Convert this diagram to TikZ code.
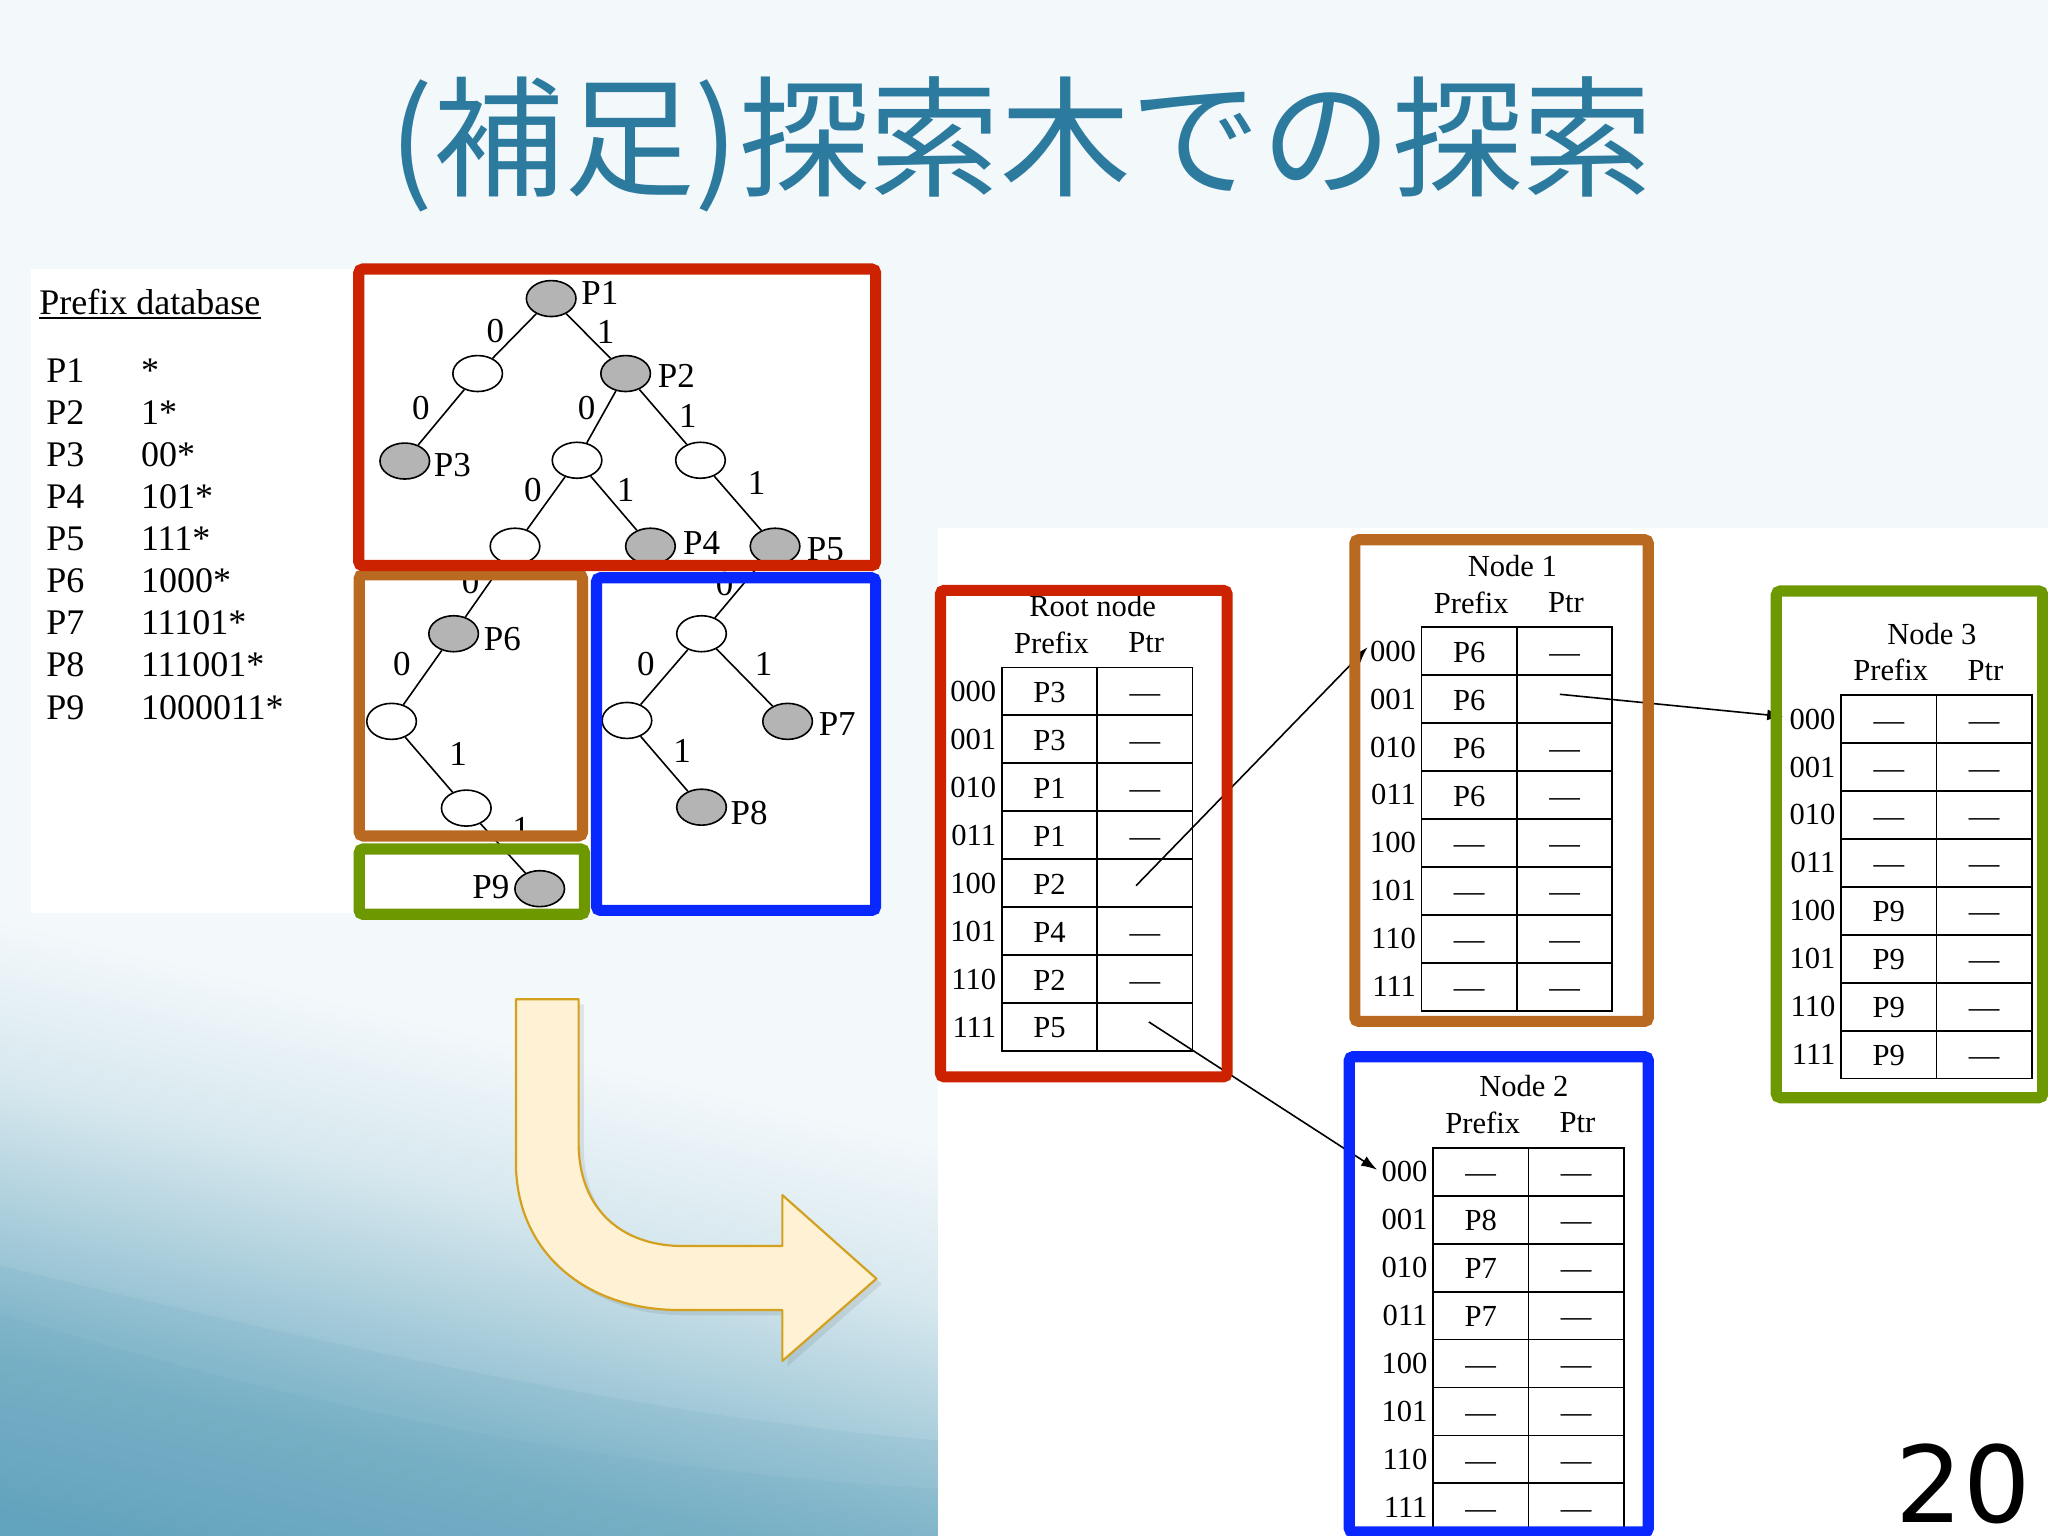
\documentclass[tikz,border=0pt]{standalone}
\usepackage{fontspec}
\setmainfont{Liberation Serif}
\newfontfamily\jpfont{Noto Sans CJK JP}
\newfontfamily\pgnfont{DejaVu Sans}
\usetikzlibrary{shapes.geometric,arrows.meta}
\definecolor{titlecol}{RGB}{44,122,158}
\definecolor{boxred}{RGB}{204,34,0}
\definecolor{boxorange}{RGB}{185,106,32}
\definecolor{boxblue}{RGB}{8,40,255}
\definecolor{boxgreen}{RGB}{110,152,0}
\definecolor{bgtop}{RGB}{243,248,251}
\definecolor{shA}{RGB}{98,163,189}
\definecolor{shB}{RGB}{125,180,200}
\definecolor{shC}{RGB}{162,201,216}
\definecolor{shD}{RGB}{215,232,238}
\definecolor{arrowfill}{RGB}{255,242,212}
\definecolor{arrowline}{RGB}{212,160,32}
\definecolor{nodegray}{RGB}{180,180,180}
\pgfdeclareverticalshading{bgwave}{100bp}{color(0bp)=(shA); color(20bp)=(shA); color(31bp)=(shB); color(38bp)=(shC); color(48bp)=(shD); color(58bp)=(bgtop); color(100bp)=(bgtop)}

\newcommand\mytable[5]{%
  \node[hdr] (#1title) at (#2+69.5,#3-47) {#4};
  \node[hdr] (#1hp) at (#2+38,#3-19) {Prefix};
  \node[hdr] (#1hq) at (#2+110.5,#3-19) {Ptr};
  \foreach \b/\p/\q [count=\i from 0] in {#5} {
    \node[cell] (#1p\b) at (#2+36.5,#3+36.7*\i+18.35) {\p};
    \node[cell] (#1q\b) at (#2+109.5,#3+36.7*\i+18.35) {\q};
    \node[rowlab] (#1l\b) at (#2-4,#3+36.7*\i+18.35) {\b};
  }
}

\begin{document}
\begin{tikzpicture}[x=0.6531pt,y=-0.6531pt,
  frame/.style={line width=5.6pt,rounded corners=2pt},
  tnode/.style={ellipse,draw,line width=0.8pt,minimum width=24.8pt,minimum height=18pt,inner sep=0pt,fill=white},
  pnode/.style={tnode,fill=nodegray},
  tlab/.style={font=\fontsize{17.5}{20}\selectfont,inner sep=0pt},
  listtxt/.style={font=\fontsize{18}{21}\selectfont,inner sep=0pt,anchor=base west},
  cell/.style={draw,line width=0.9pt,minimum width=47.7pt,minimum height=23.97pt,inner sep=0pt,
    text height=13.8pt,text depth=2.75pt,font=\fontsize{15.3}{18}\selectfont},
  rowlab/.style={anchor=east,inner sep=0pt,font=\fontsize{15.3}{18}\selectfont},
  hdr/.style={inner sep=0pt,font=\fontsize{15.3}{18}\selectfont},
  tedge/.style={line width=0.8pt},
  ptr/.style={line width=0.8pt,-{Latex[length=8pt,width=5.5pt]}},
  bigarrow/.style={fill=arrowfill,draw=arrowline,line width=1.1pt,line join=round}
]
\useasboundingbox (0,0) rectangle (1568,1176);
\clip (0,0) rectangle (1568,1176);

% background
\fill[bgtop] (0,0) rectangle (1568,1176);
\shade[shading=bgwave,shading angle=-13.5] (0,600) rectangle (720,1176);
\fill[shA,opacity=0.12] (0,969) .. controls (250,1030) and (500,1085) .. (720,1103) -- (720,1176) -- (0,1176) -- cycle;
\fill[shA,opacity=0.10] (0,1005) .. controls (250,1085) and (500,1128) .. (720,1140) -- (720,1176) -- (0,1176) -- cycle;

% title
\node[anchor=base,inner sep=0pt,text=titlecol,font=\jpfont\fontsize{65.3}{70}\selectfont] (title) at (782,143) {(補足)探索木での探索};

% panels
\fill[white] (24,206) rectangle (672,699);
\fill[white] (718,404) rectangle (1568,1176);

% prefix database
\node[listtxt] (pdb) at (29.9,241) {Prefix database};
\draw[line width=0.8pt] ([yshift=-1.6pt]pdb.base west) -- ([yshift=-1.6pt]pdb.base east);
\foreach \n/\v [count=\i from 0] in {P1/*,P2/1*,P3/00*,P4/101*,P5/111*,P6/1000*,P7/11101*,P8/111001*,P9/1000011*} {
  \node[listtxt] (ln\n) at (35.2,292.9+32.2*\i) {\n};
  \node[listtxt] (lv\n) at (107.7,292.9+32.2*\i) {\v};
}

% tree nodes
\node[pnode] (t1) at (422,228.6) {};
\node[tnode] (t0) at (365.7,286) {};
\node[pnode] (t2) at (479,286) {};
\node[pnode] (t3) at (309.9,353) {};
\node[tnode] (t10) at (441.8,352.4) {};
\node[tnode] (t11) at (536.3,352.4) {};
\node[tnode] (t100) at (394.3,418.2) {};
\node[pnode] (t4) at (498,418.2) {};
\node[pnode] (t5) at (593.4,418.2) {};
\node[pnode] (t6) at (347.3,485.2) {};
\node[tnode] (t10000) at (299.8,552.3) {};
\node[tnode] (t100001) at (357,618.7) {};
\node[pnode] (t9) at (413.2,680.4) {};
\node[tnode] (t1110) at (537.1,485.2) {};
\node[tnode] (t11100) at (480,551.6) {};
\node[pnode] (t7) at (603,552.3) {};
\node[pnode] (t8) at (537.1,618) {};
\foreach \a/\b in {t1/t0,t1/t2,t0/t3,t2/t10,t2/t11,t10/t100,t10/t4,t11/t5,t100/t6,t6/t10000,t10000/t100001,t100001/t9,t5/t1110,t1110/t11100,t1110/t7,t11100/t8}
  \draw[tedge] (\a) -- (\b);

% tree labels
\foreach \n/\x/\y in {P1/459.3/224.6,P2/517.8/287.7,P3/346.4/356.4,P4/537.1/415.5,P5/632/420.5,P6/384.6/489.5,P9/375.8/679.4,P7/641/554.3,P8/573.6/622.3}
  \node[tlab] (lab\n) at (\x,\y) {\n};
\foreach \t/\x/\y [count=\k] in {0/379.3/253.8,1/463.7/253.8,0/322.2/312.6,0/449.2/312.6,1/526.6/318.6,0/407.9/375,1/479/375,1/579.3/370,0/360.4/445.4,0/307.7/508.5,1/350.8/577.2,1/399/634.6,0/554.7/447,0/494.5/508.5,1/584.6/508.5,1/522.2/574.9}
  \node[tlab] (el\k) at (\x,\y) {\t};

% left frames
\draw[frame,boxorange] (275,440) rectangle (446,640);
\draw[frame,boxblue] (456.7,442.4) rectangle (670.4,697);
\draw[frame,boxred] (274.7,206) rectangle (670.4,433);
\draw[frame,boxgreen] (275,650) rectangle (447.5,700);

% tables
\mytable{R}{767}{511}{Root node}{000/P3/—,001/P3/—,010/P1/—,011/P1/—,100/P2/{},101/P4/—,110/P2/—,111/P5/{}}
\mytable{A}{1088.4}{480.2}{Node 1}{000/P6/—,001/P6/{},010/P6/—,011/P6/—,100/—/—,101/—/—,110/—/—,111/—/—}
\mytable{C}{1409.6}{532.2}{Node 3}{000/—/—,001/—/—,010/—/—,011/—/—,100/P9/—,101/P9/—,110/P9/—,111/P9/—}
\mytable{B}{1097.2}{878.8}{Node 2}{000/—/—,001/P8/—,010/P7/—,011/P7/—,100/—/—,101/—/—,110/—/—,111/—/—}

% pointers
\draw[ptr] ([xshift=-4.4pt,yshift=-1.3pt]Rq100.center) -- ([xshift=-1pt,yshift=2pt]Al000.west);
\draw[ptr] ([xshift=2pt,yshift=2.5pt]Rq111.center) -- ([xshift=-2pt,yshift=1pt]Bl000.west);
\draw[ptr] ([xshift=-2.4pt,yshift=2.4pt]Aq001.center) -- ([xshift=-3pt,yshift=1.3pt]Cl000.west);

% right frames
\draw[frame,boxred] (720,452) rectangle (939.5,824.5);
\draw[frame,boxorange] (1037.3,413.2) rectangle (1262,782);
\draw[frame,boxgreen] (1360,452.5) rectangle (1564,840.4);
\draw[frame,boxblue] (1033,809) rectangle (1262,1173);

% big bent arrow
\fill[black,opacity=0.08] (399,769) -- (399,894) .. controls (399,964) and (454,1007) .. (524,1007) -- (603,1007) -- (603,1046) -- (675,983) -- (603,919) -- (603,958) -- (527,958) .. controls (479,958) and (447,929) .. (447,879) -- (447,769) -- cycle;
\draw[bigarrow] (395,765) -- (395,890) .. controls (395,960) and (450,1003) .. (520,1003) -- (599,1003) -- (599,1042) -- (671,979) -- (599,915) -- (599,954) -- (523,954) .. controls (475,954) and (443,925) .. (443,875) -- (443,765) -- cycle;

% page number
\node[anchor=base west,inner sep=0pt,font=\pgnfont\fontsize{53}{60}\selectfont] (pgnum) at (1451,1166) {20};
\end{tikzpicture}
\end{document}
